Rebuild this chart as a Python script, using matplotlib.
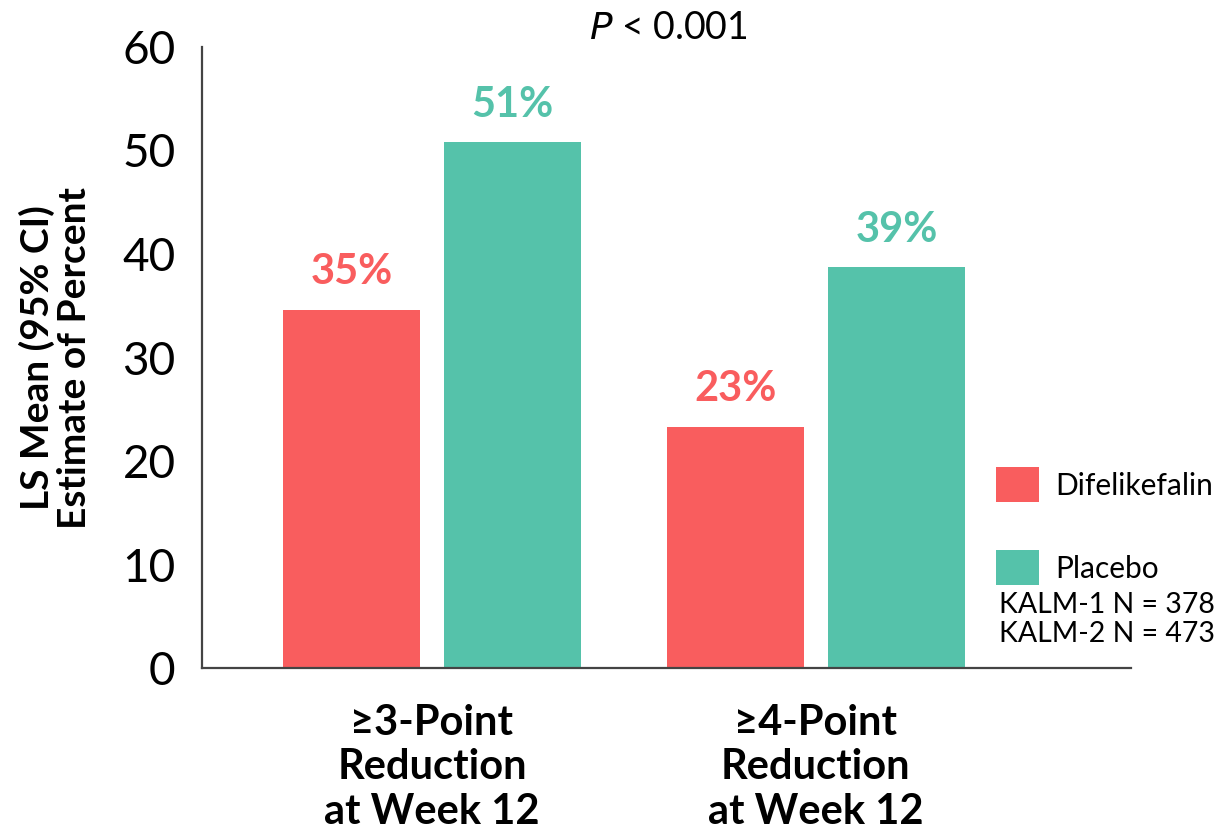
import numpy as np
import matplotlib.pyplot as plt
from matplotlib.patches import Patch

plt.rcParams['font.family'] = ['Lato', 'DejaVu Sans']

groups = ['\u22653-Point\nReduction\nat Week 12', '\u22654-Point\nReduction\nat Week 12']
difelikefalin = [34.6, 23.3]
placebo = [50.8, 38.7]
diff_labels = ['35%', '23%']
plac_labels = ['51%', '39%']
series_names = ['Difelikefalin', 'Placebo']
red = '#F95D5E'
green = '#55C2AA'

fig = plt.figure(figsize=(12.17, 8.33), dpi=100)
ax = fig.add_axes([0.166, 0.198, 0.763, 0.7456])

x = np.arange(len(groups))
w = 0.357
off = 0.21
b1 = ax.bar(x - off, difelikefalin, w, color=red)
b2 = ax.bar(x + off, placebo, w, color=green)

for rect, lab in zip(b1, diff_labels):
    ax.text(rect.get_x() + rect.get_width() / 2, rect.get_height() + 1.8, lab,
            ha='center', va='bottom', color=red, fontsize=30, fontweight='bold')
for rect, lab in zip(b2, plac_labels):
    ax.text(rect.get_x() + rect.get_width() / 2, rect.get_height() + 1.8, lab,
            ha='center', va='bottom', color=green, fontsize=30, fontweight='bold')

ax.set_xlim(-0.599, 1.82)
ax.set_ylim(0, 60)
ax.set_yticks(np.arange(0, 61, 10))
ax.set_xticks(x)
ax.set_xticklabels(groups, fontsize=30, fontweight='bold', linespacing=1.2)
ax.tick_params(axis='y', length=0, pad=19, labelsize=33)
ax.tick_params(axis='x', length=0, pad=26)
for s in ['top', 'right']:
    ax.spines[s].set_visible(False)
for s in ['left', 'bottom']:
    ax.spines[s].set_color('#444444')
    ax.spines[s].set_linewidth(1.6)

ax.set_ylabel('LS Mean (95% CI)\nEstimate of Percent', fontsize=28, fontweight='bold',
              labelpad=22, linespacing=1.05)

fig.text(0.549, 0.966, '$\\it{P}$ < 0.001', ha='center', va='center', fontsize=27)

handles = [Patch(facecolor=red), Patch(facecolor=green)]
fig.legend(handles, series_names, loc='upper left', bbox_to_anchor=(0.818, 0.4394),
           frameon=False, fontsize=21.5, handlelength=1.44, handleheight=1.44,
           labelspacing=1.6, handletextpad=0.55, borderpad=0, borderaxespad=0)
fig.text(0.821, 0.256, 'KALM-1 N = 378\nKALM-2 N = 473', ha='left', va='center',
         fontsize=20.5, linespacing=1.15)

plt.savefig('out.png', dpi=100)
